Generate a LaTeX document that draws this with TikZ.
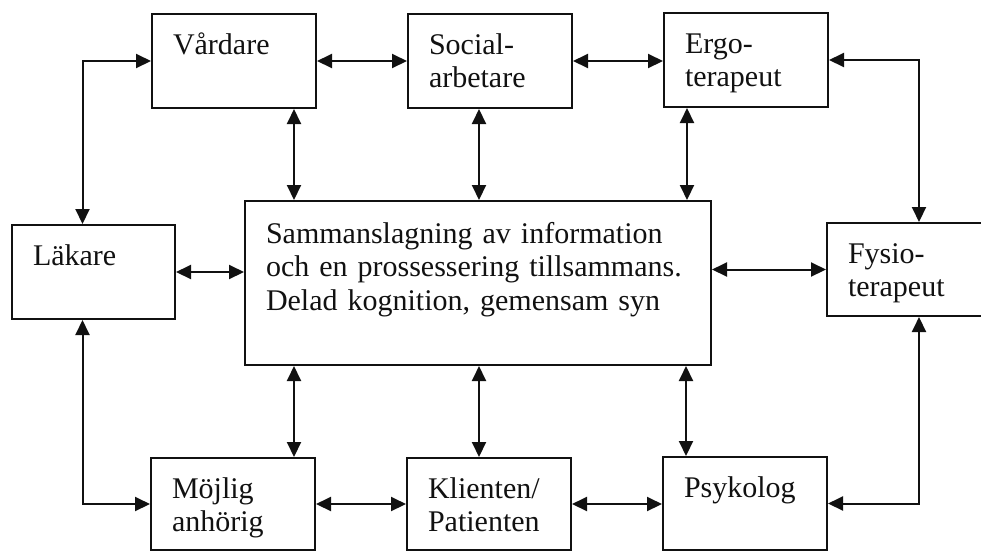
\documentclass[tikz,border=0pt]{standalone}
\usepackage{fontspec}
\setmainfont{Liberation Serif}
\usepackage{tikz}
\usetikzlibrary{arrows.meta,positioning,calc}
\definecolor{TeamInk}{HTML}{111111}
\tikzset{
  teambox/.style={draw=TeamInk,line width=2pt,anchor=north west,align=left,inner xsep=21pt,inner ysep=0pt,text width=122pt,text height=40pt,font=\fontsize{30}{33.5}\selectfont,text=TeamInk},
  teamlink/.style={{Triangle[length=15pt,width=14pt]}-{Triangle[length=15pt,width=14pt]},line width=2pt,draw=TeamInk}
}
\begin{document}
\begin{tikzpicture}[x=1pt,y=-1pt]
\useasboundingbox (0,0) rectangle (981,550);
\node[teambox,text depth=54pt] (vard) at (151,13) {Vårdare};
\node[teambox,text depth=54pt] (soc) at (407,13) {Social-\\arbetare};
\node[teambox,text depth=54pt] (ergo) at (663,12) {Ergo-\\terapeut};
\node[teambox,text width=121pt,text depth=54pt] (lak) at (11,224) {Läkare};
\node[teambox,text width=424pt,text height=42pt,text depth=122pt] (samman) at (244,200) {Sammanslagning av information\\och en prossessering tillsammans.\\Delad kognition, gemensam syn};
\node[teambox,text width=118pt,text depth=53pt] (fysio) at (826,222) {Fysio-\\terapeut};
\node[teambox,text depth=52pt] (mojlig) at (150,457) {Möjlig\\anhörig};
\node[teambox,text depth=52pt] (klient) at (406,457) {Klienten/\\Patienten};
\node[teambox,text depth=53pt] (psyk) at (662,456) {Psykolog};
\draw[teamlink] (vard.east) -- (soc.west);
\draw[teamlink] (soc.east) -- (soc.east -| ergo.west);
\draw[teamlink] (vard.west) -| ([xshift=-11pt]lak.north);
\draw[teamlink] (ergo.east) -| ([xshift=93pt]fysio.north west);
\draw[teamlink] ([xshift=-23pt]vard.south east) -- ([xshift=-23pt]vard.south east |- samman.north);
\draw[teamlink] ([xshift=-11pt]soc.south) -- ([xshift=-11pt]soc.south |- samman.north);
\draw[teamlink] ([xshift=24pt]ergo.south west) -- ([xshift=24pt]ergo.south west |- samman.north);
\draw[teamlink] (lak.east) -- (lak.east -| samman.west);
\draw[teamlink] (fysio.west -| samman.east) -- (fysio.west);
\draw[teamlink] ([xshift=-22pt]mojlig.north east |- samman.south) -- ([xshift=-22pt]mojlig.north east);
\draw[teamlink] ([xshift=-10pt]klient.north |- samman.south) -- ([xshift=-10pt]klient.north);
\draw[teamlink] ([xshift=24pt]psyk.north west |- samman.south) -- ([xshift=24pt]psyk.north west);
\draw[teamlink] (mojlig.west) -| ([xshift=-11pt]lak.south);
\draw[teamlink] (mojlig.east) -- (klient.west);
\draw[teamlink] (klient.east) -- (klient.east -| psyk.west);
\draw[teamlink] (psyk.east) -| ([xshift=93pt]fysio.south west);
\end{tikzpicture}
\end{document}
